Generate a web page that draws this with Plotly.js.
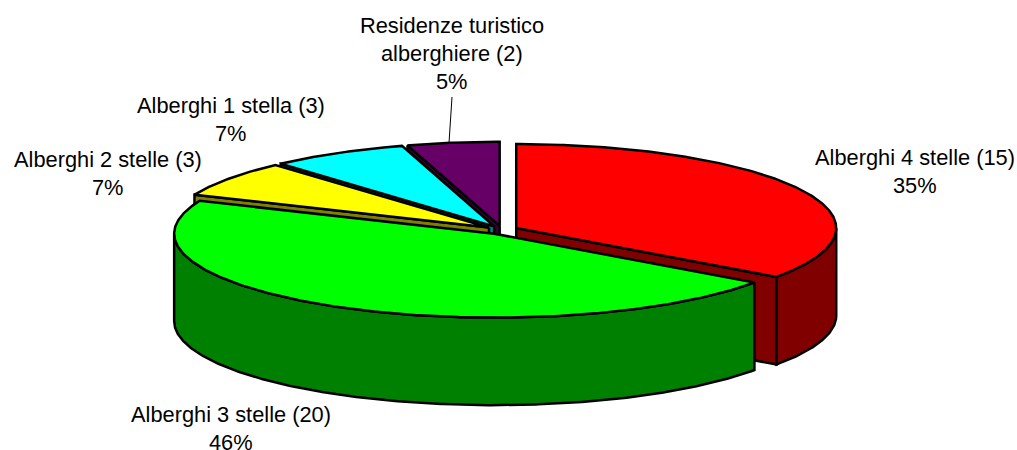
<!DOCTYPE html>
<html>
<head>
<meta charset="utf-8">
<script src="https://cdn.plot.ly/plotly-3.0.1.min.js"></script>
<style>html,body{margin:0;padding:0;background:#fff}</style>
</head>
<body>
<div id="chart" style="width:1017px;height:450px"></div>
<script>
// Data
const categories = ["Alberghi 4 stelle", "Alberghi 3 stelle", "Alberghi 2 stelle", "Alberghi 1 stella", "Residenze turistico alberghiere"];
const counts = [15, 20, 3, 3, 2];
const percentLabels = ["35%", "46%", "7%", "7%", "5%"];
const topColors = ["#ff0000", "#00ff00", "#ffff00", "#00ffff", "#660066"];
const wallColors = ["#800000", "#008000", "#808000", "#008080", "#330033"];
const labelLines = [
  ["Alberghi 4 stelle (15)", "35%"],
  ["Alberghi 3 stelle (20)", "46%"],
  ["Alberghi 2 stelle (3)", "7%"],
  ["Alberghi 1 stella (3)", "7%"],
  ["Residenze turistico", "alberghiere (2)", "5%"]
];
const labelCenterX = [915, 231, 107.5, 231, 452];
const labelFirstY = [157.5, 414.5, 159.5, 105.5, 25.5];
const lineStep = 28;

// Projection of the tilted pie
const cx = 502, cy = 230, rx = 320, ry = 84, depth = 87.5, explode = 16;
const drawOrder = [4, 3, 2, 0, 1];
const total = counts.reduce((a, b) => a + b, 0);
const rad = d => d * Math.PI / 180;

const spans = [];
let acc = 0;
counts.forEach(v => { spans.push([acc, acc + v / total * 360]); acc += v / total * 360; });

function arc(o, a, b, dz) {
  const pts = [];
  const n = Math.max(2, Math.ceil((b - a) * 2));
  for (let i = 0; i <= n; i++) {
    const t = rad(a + (b - a) * i / n);
    pts.push([o[0] + rx * Math.sin(t), o[1] - ry * Math.cos(t) + dz]);
  }
  return pts;
}
function poly(pts, fill) {
  const closed = pts.concat([pts[0]]);
  return {
    type: "scatter", mode: "lines", x: closed.map(p => p[0]), y: closed.map(p => p[1]),
    fill: "toself", fillcolor: fill, line: {color: "#000", width: 2.5},
    hoverinfo: "skip", showlegend: false
  };
}

const traces = [];
drawOrder.forEach(i => {
  const [a, b] = spans[i];
  const m = rad((a + b) / 2);
  const o = [cx + explode * Math.sin(m), cy - explode * Math.cos(m) * ry / rx];
  const bottom = [o[0], o[1] + depth];
  // radial wall on the start side
  if (Math.sin(rad(a)) < -1e-6) {
    const r = arc(o, a, a, 0)[0];
    traces.push(poly([o, r, [r[0], r[1] + depth], bottom], wallColors[i]));
  }
  // radial wall on the end side
  if (Math.sin(rad(b)) > 1e-6) {
    const r = arc(o, b, b, 0)[0];
    traces.push(poly([o, r, [r[0], r[1] + depth], bottom], wallColors[i]));
  }
  // outer rim wall on the front half
  const s = Math.max(a, 90), e = Math.min(b, 270);
  if (e > s) {
    traces.push(poly(arc(o, s, e, 0).concat(arc(o, s, e, depth).reverse()), wallColors[i]));
  }
  // top face
  traces.push(poly([o].concat(arc(o, a, b, 0)), topColors[i]));
});

const annotations = [];
labelLines.forEach((lines, i) => lines.forEach((txt, j) => {
  annotations.push({
    x: labelCenterX[i], y: labelFirstY[i] + j * lineStep, xref: "x", yref: "y",
    text: txt, showarrow: false, xanchor: "center", yanchor: "middle",
    font: {family: "Liberation Sans, Arial, sans-serif", size: 21.8, color: "#000"}
  });
}));

const layout = {
  width: 1017, height: 450, margin: {l: 0, r: 0, t: 0, b: 0},
  paper_bgcolor: "#fff", plot_bgcolor: "#fff", showlegend: false,
  xaxis: {range: [0, 1017], visible: false, fixedrange: true},
  yaxis: {range: [450, 0], visible: false, fixedrange: true},
  annotations: annotations,
  shapes: [{type: "line", xref: "x", yref: "y", x0: 452, y0: 97, x1: 449, y1: 143, line: {color: "#000", width: 1}}]
};
Plotly.newPlot("chart", traces, layout, {displayModeBar: false, staticPlot: true});
</script>
</body>
</html>
